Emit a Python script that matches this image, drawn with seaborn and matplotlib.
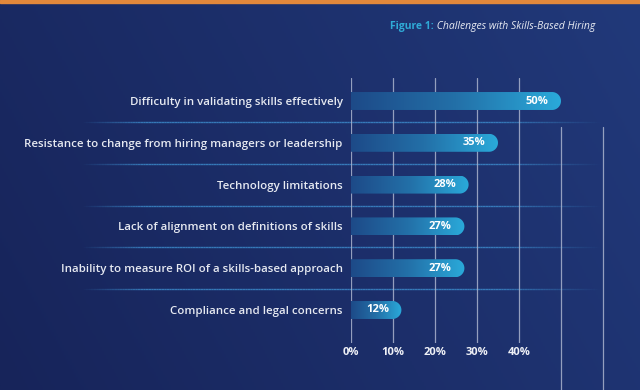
import numpy as np
import matplotlib
matplotlib.use("Agg")
import matplotlib.pyplot as plt
import seaborn as sns
from matplotlib.colors import LinearSegmentedColormap, to_rgba
from matplotlib.path import Path
from matplotlib.patches import PathPatch, Rectangle
from matplotlib.collections import LineCollection

# data
challenges = [
    "Difficulty in validating skills effectively",
    "Resistance to change from hiring managers or leadership",
    "Technology limitations",
    "Lack of alignment on definitions of skills",
    "Inability to measure ROI of a skills-based approach",
    "Compliance and legal concerns",
]
shares = [50, 35, 28, 27, 27, 12]
tick_values = [0, 10, 20, 30, 40]
tick_labels = ["0%", "10%", "20%", "30%", "40%"]
extra_grid = [50, 60]
title_bold = "Figure 1:"
title_rest = " Challenges with Skills-Based Hiring"

sns.set_theme(style="white")
plt.rcParams["font.family"] = ["Open Sans", "DejaVu Sans"]

W, H = 640, 390
fig = plt.figure(figsize=(W / 100, H / 100), dpi=100)

# background gradient
bg = fig.add_axes([0, 0, 1, 1], zorder=0)
gx, gy = np.meshgrid(np.linspace(0, 1, 320), np.linspace(0, 1, 200))
shade = np.clip(0.75 * gx - 0.25 * gy + 0.25, 0, 1)
bg_cmap = LinearSegmentedColormap.from_list("bg", ["#17245a", "#21397a"])
bg.imshow(shade, cmap=bg_cmap, aspect="auto", extent=(0, 1, 0, 1), vmin=0, vmax=1)
bg.set_axis_off()

# orange band at the top
fig.add_artist(Rectangle((0, 1 - 3 / H), 1, 3 / H, transform=fig.transFigure,
                         color="#e2883b", zorder=5))

# main axes, pixel geometry
ax_left, ax_right, ax_top, ax_bot = 351, 640, 78, 343
px_per_pct = 4.2
row_px = 41.8
ax = fig.add_axes([ax_left / W, (H - ax_bot) / H, (ax_right - ax_left) / W,
                   (ax_bot - ax_top) / H], zorder=2)
ax.patch.set_alpha(0)
xmax = (ax_right - ax_left) / px_per_pct
ylo = (ax_top - 101) / row_px
yhi = (ax_bot - 101) / row_px

sns.barplot(x=shares, y=challenges, orient="h", width=0.43, color="#2aa8d9", ax=ax)

bar_cmap = LinearSegmentedColormap.from_list("bar", ["#1d4a88", "#2370a8", "#2aaada"])
grad = np.linspace(0, 1, 256).reshape(1, -1)
for p, v in zip(list(ax.patches), shares):
    x0, y0, w, h = p.get_x(), p.get_y(), p.get_width(), p.get_height()
    p.set_visible(False)
    ry = h / 2
    rx = ry * row_px / px_per_pct
    yc = y0 + ry
    th = np.linspace(0, np.pi, 40)
    verts = [(x0, y0), (x0 + w - rx, y0)]
    verts += list(zip(x0 + w - rx + rx * np.sin(th), yc - ry * np.cos(th)))
    verts += [(x0, y0 + h), (x0, y0)]
    codes = [Path.MOVETO] + [Path.LINETO] * (len(verts) - 2) + [Path.CLOSEPOLY]
    shape = PathPatch(Path(verts, codes), facecolor="none", edgecolor="none")
    ax.add_patch(shape)
    im = ax.imshow(grad, cmap=bar_cmap, aspect="auto", extent=(x0, x0 + w, y0 + h, y0),
                   zorder=3, interpolation="bilinear")
    im.set_clip_path(shape)
    ax.text(x0 + w - 3.0, yc, f"{v}%", ha="right", va="center", color="white",
            fontsize=8, fontweight="bold", zorder=4)

# horizontal separators fading at both ends
xs = np.linspace((80 - ax_left) / px_per_pct, (600 - ax_left) / px_per_pct, 200)
fade = np.clip(np.minimum((xs - xs[0]) / 15, (xs[-1] - xs) / 25), 0, 1)
for k in range(len(challenges) - 1):
    yk = k + 0.5
    segs = [[(xs[i], yk), (xs[i + 1], yk)] for i in range(len(xs) - 1)]
    cols = [to_rgba("#3d8ccd", 0.8 * fade[i]) for i in range(len(xs) - 1)]
    lc = LineCollection(segs, colors=cols, linewidths=1.0, clip_on=False, zorder=1)
    ax.add_collection(lc)

# vertical grid
for tv in tick_values:
    ax.axvline(tv, color="#aab3cd", lw=0.9, alpha=0.85, zorder=1)
for tv in extra_grid:
    ax.axvline(tv, ymin=-0.18, ymax=0.815, color="#aab3cd", lw=0.9, alpha=0.85,
               zorder=1, clip_on=False)

ax.set_xlim(0, xmax)
ax.set_ylim(yhi, ylo)
ax.set_xticks(tick_values, tick_labels)
ax.tick_params(axis="x", length=0, pad=3, colors="#eef0f6", labelsize=8)
for t in ax.get_xticklabels():
    t.set_fontweight("bold")
ax.tick_params(axis="y", length=0, pad=6, colors="#e6e9f1", labelsize=8.25)
for t in ax.get_yticklabels():
    t.set_fontweight("semibold")
ax.set_xlabel("")
ax.set_ylabel("")
ax.grid(False)
sns.despine(ax=ax, left=True, bottom=True)

# title
ty = 1 - 27 / H
t1 = fig.text(390 / W, ty, title_bold, color="#2fa9d6", fontsize=7.5,
              fontweight="bold", ha="left", va="center", zorder=5)
fig.canvas.draw()
bb = t1.get_window_extent()
fig.text(bb.x1 / W, ty, title_rest, color="#e8ebf3", fontsize=7.5, style="italic",
         ha="left", va="center", zorder=5)

fig.savefig("out.png", dpi=100)
